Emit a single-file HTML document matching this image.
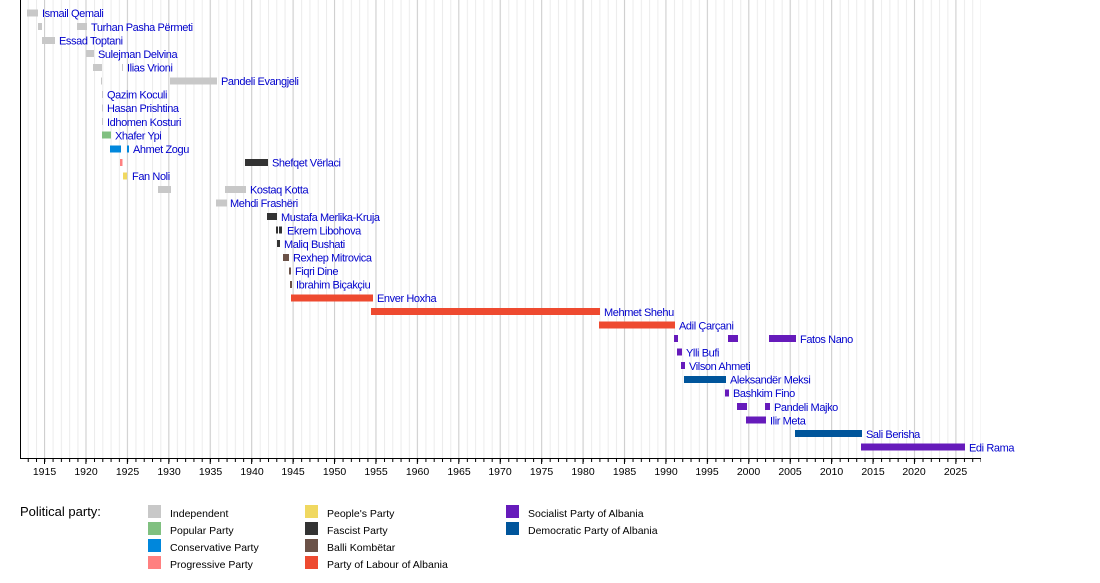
<!DOCTYPE html>
<html><head><meta charset="utf-8"><style>
body{margin:0;background:#fff}
svg text{font-family:"Liberation Sans",sans-serif}
.l{font-size:11px;fill:#0000cc;letter-spacing:-0.4px}
.t{font-size:10.5px;fill:#000}
.g{font-size:10.5px;fill:#000}
</style></head><body>
<svg width="1100" height="578" xmlns="http://www.w3.org/2000/svg">
<defs>
<pattern id="mi" x="27.73" y="0" width="8.285" height="10" patternUnits="userSpaceOnUse"><rect x="0" y="0" width="1" height="10" fill="#ececec"/></pattern>
<pattern id="ma" x="44" y="0" width="41.425" height="10" patternUnits="userSpaceOnUse"><rect x="0" y="0" width="1" height="10" fill="#cfcfcf"/></pattern>
<pattern id="tmi" x="27.73" y="0" width="8.285" height="10" patternUnits="userSpaceOnUse"><rect x="0" y="0" width="1" height="10" fill="#000"/></pattern>
<pattern id="tma" x="44" y="0" width="41.425" height="10" patternUnits="userSpaceOnUse"><rect x="0" y="0" width="1" height="10" fill="#000"/></pattern>
</defs>
<rect x="21" y="0" width="960" height="458" fill="url(#mi)"/>
<rect x="21" y="0" width="960" height="458" fill="url(#ma)"/>
<rect x="20" y="0" width="1" height="459" fill="#000"/>
<rect x="20" y="458" width="961" height="1" fill="#000"/>
<rect x="21" y="459" width="960" height="3" fill="url(#tmi)"/>
<rect x="21" y="459" width="960" height="5" fill="url(#tma)"/>
<g class="t" text-anchor="middle">
<text x="44.5" y="475">1915</text><text x="86" y="475">1920</text><text x="127.5" y="475">1925</text><text x="169" y="475">1930</text><text x="210.5" y="475">1935</text><text x="252" y="475">1940</text><text x="293" y="475">1945</text><text x="334.5" y="475">1950</text><text x="376" y="475">1955</text><text x="417.5" y="475">1960</text><text x="459" y="475">1965</text><text x="500" y="475">1970</text><text x="541.5" y="475">1975</text><text x="583" y="475">1980</text><text x="624.5" y="475">1985</text><text x="666" y="475">1990</text><text x="707" y="475">1995</text><text x="748.5" y="475">2000</text><text x="790" y="475">2005</text><text x="831.5" y="475">2010</text><text x="873" y="475">2015</text><text x="914" y="475">2020</text><text x="955.5" y="475">2025</text>
</g>
<g>
<!-- rows: y center = 13 + 13.56*i ; bar height 7 -->
<rect x="27" y="9.5" width="11" height="7" fill="#c8c8c8"/>
<rect x="38" y="23" width="4" height="7" fill="#c8c8c8"/><rect x="77" y="23" width="10" height="7" fill="#c8c8c8"/>
<rect x="42" y="37" width="13" height="7" fill="#c8c8c8"/>
<rect x="86" y="50" width="8" height="7" fill="#c8c8c8"/>
<rect x="93" y="64" width="9" height="7" fill="#c8c8c8"/><rect x="122" y="64" width="1" height="7" fill="#c8c8c8"/>
<rect x="101" y="77.5" width="1" height="7" fill="#c8c8c8"/><rect x="170" y="77.5" width="47" height="7" fill="#c8c8c8"/>
<rect x="102" y="91" width="1" height="7" fill="#c8c8c8"/>
<rect x="102" y="104.5" width="1" height="7" fill="#c8c8c8"/>
<rect x="102" y="118" width="1" height="7" fill="#c8c8c8"/>
<rect x="102" y="131.5" width="9" height="7" fill="#80c080"/>
<rect x="110" y="145.5" width="11" height="7" fill="#0087dc"/><rect x="127" y="145.5" width="2" height="7" fill="#0087dc"/>
<rect x="120" y="159" width="2.5" height="7" fill="#ff8080"/><rect x="245" y="159" width="23" height="7" fill="#333"/>
<rect x="123" y="172.5" width="4" height="7" fill="#f0d860"/>
<rect x="158" y="186" width="13" height="7" fill="#c8c8c8"/><rect x="225" y="186" width="21" height="7" fill="#c8c8c8"/>
<rect x="216" y="199.5" width="11" height="7" fill="#c8c8c8"/>
<rect x="267" y="213" width="10" height="7" fill="#333"/>
<rect x="276" y="226.5" width="2" height="7" fill="#333"/><rect x="279" y="226.5" width="3" height="7" fill="#333"/>
<rect x="277" y="240" width="3" height="7" fill="#333"/>
<rect x="283" y="254" width="6" height="7" fill="#6b5248"/>
<rect x="289" y="267.5" width="2" height="7" fill="#6b5248"/>
<rect x="290" y="281" width="2" height="7" fill="#6b5248"/>
<rect x="291" y="294.5" width="82" height="7" fill="#ee4a30"/>
<rect x="371" y="308" width="229" height="7" fill="#ee4a30"/>
<rect x="599" y="321.5" width="76" height="7" fill="#ee4a30"/>
<rect x="674" y="335" width="4" height="7" fill="#661bbb"/><rect x="728" y="335" width="10" height="7" fill="#661bbb"/><rect x="769" y="335" width="27" height="7" fill="#661bbb"/>
<rect x="677" y="348.5" width="5" height="7" fill="#661bbb"/>
<rect x="681" y="362" width="4" height="7" fill="#661bbb"/>
<rect x="684" y="376" width="42" height="7" fill="#00559b"/>
<rect x="725" y="389.5" width="4" height="7" fill="#661bbb"/>
<rect x="737" y="403" width="10" height="7" fill="#661bbb"/><rect x="765" y="403" width="5" height="7" fill="#661bbb"/>
<rect x="746" y="416.5" width="20" height="7" fill="#661bbb"/>
<rect x="795" y="430" width="67" height="7" fill="#00559b"/>
<rect x="861" y="443.5" width="104" height="7" fill="#661bbb"/>
</g>
<g class="l">
<text x="42" y="17">Ismail Qemali</text>
<text x="91" y="31">Turhan Pasha Përmeti</text>
<text x="59" y="44.5">Essad Toptani</text>
<text x="98" y="58">Sulejman Delvina</text>
<text x="127" y="71.5">Ilias Vrioni</text>
<text x="221" y="85">Pandeli Evangjeli</text>
<text x="107" y="98.5">Qazim Koculi</text>
<text x="107" y="112">Hasan Prishtina</text>
<text x="107" y="126">Idhomen Kosturi</text>
<text x="115" y="139.5">Xhafer Ypi</text>
<text x="133" y="153">Ahmet Zogu</text>
<text x="272" y="166.5">Shefqet Vërlaci</text>
<text x="132" y="180">Fan Noli</text>
<text x="250" y="193.5">Kostaq Kotta</text>
<text x="230" y="207">Mehdi Frashëri</text>
<text x="281" y="221">Mustafa Merlika-Kruja</text>
<text x="287" y="234.5">Ekrem Libohova</text>
<text x="284" y="248">Maliq Bushati</text>
<text x="293" y="261.5">Rexhep Mitrovica</text>
<text x="295" y="275">Fiqri Dine</text>
<text x="296" y="288.5">Ibrahim Biçakçiu</text>
<text x="377" y="302">Enver Hoxha</text>
<text x="604" y="316">Mehmet Shehu</text>
<text x="679" y="329.5">Adil Çarçani</text>
<text x="800" y="343">Fatos Nano</text>
<text x="686" y="356.5">Ylli Bufi</text>
<text x="689" y="370">Vilson Ahmeti</text>
<text x="730" y="383.5">Aleksandër Meksi</text>
<text x="733" y="397">Bashkim Fino</text>
<text x="774" y="411">Pandeli Majko</text>
<text x="770" y="424.5">Ilir Meta</text>
<text x="866" y="438">Sali Berisha</text>
<text x="969" y="451.5">Edi Rama</text>
</g>
<text x="20" y="516" style="font-size:13px;fill:#000">Political party:</text>
<g class="g">
<rect x="148" y="505" width="13" height="13" fill="#c8c8c8"/><text x="170" y="517">Independent</text>
<rect x="148" y="522" width="13" height="13" fill="#80c080"/><text x="170" y="534">Popular Party</text>
<rect x="148" y="539" width="13" height="13" fill="#0087dc"/><text x="170" y="551">Conservative Party</text>
<rect x="148" y="556" width="13" height="13" fill="#ff8080"/><text x="170" y="568">Progressive Party</text>
<rect x="305" y="505" width="13" height="13" fill="#f0d860"/><text x="327" y="517">People's Party</text>
<rect x="305" y="522" width="13" height="13" fill="#333"/><text x="327" y="534">Fascist Party</text>
<rect x="305" y="539" width="13" height="13" fill="#6b5248"/><text x="327" y="551">Balli Kombëtar</text>
<rect x="305" y="556" width="13" height="13" fill="#ee4a30"/><text x="327" y="568">Party of Labour of Albania</text>
<rect x="506" y="505" width="13" height="13" fill="#661bbb"/><text x="528" y="517">Socialist Party of Albania</text>
<rect x="506" y="522" width="13" height="13" fill="#00559b"/><text x="528" y="534">Democratic Party of Albania</text>
</g>
</svg>
</body></html>
